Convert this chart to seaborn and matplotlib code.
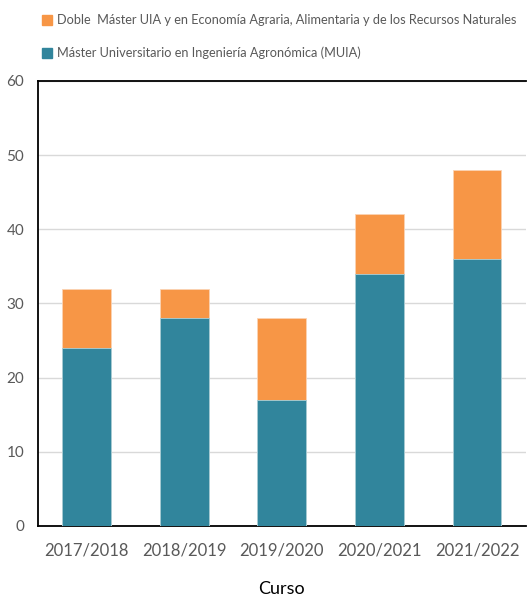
import numpy as np
import pandas as pd
import matplotlib
matplotlib.use("Agg")
import matplotlib.pyplot as plt
import seaborn as sns
from matplotlib.patches import Patch

# data
cursos = ["2017/2018", "2018/2019", "2019/2020", "2020/2021", "2021/2022"]
muia = [24, 28, 17, 34, 36]
doble = [8, 4, 11, 8, 12]

lab_doble = "Doble  Máster UIA y en Economía Agraria, Alimentaria y de los Recursos Naturales"
lab_muia = "Máster Universitario en Ingeniería Agronómica (MUIA)"

df = pd.DataFrame({"Curso": cursos, "MUIA": muia, "Doble": doble})
df["Total"] = df["MUIA"] + df["Doble"]

orange = "#F79646"
teal = "#31859C"
grey = "#595959"

sns.set_style("white")
plt.rcParams["font.family"] = ["Lato", "DejaVu Sans"]

fig = plt.figure(figsize=(5.29, 5.99), dpi=100)
ax = fig.add_axes([0.0718, 0.1219, 0.922, 0.743])

# stacked: totals first, MUIA drawn over them
sns.barplot(data=df, x="Curso", y="Total", color=orange, width=0.5,
            saturation=1, ax=ax, zorder=3, edgecolor="#FBD3B3", linewidth=0.6)
sns.barplot(data=df, x="Curso", y="MUIA", color=teal, width=0.5,
            saturation=1, ax=ax, zorder=3, edgecolor="#A9D0DA", linewidth=0.6)

ax.set_ylim(0, 60)
ax.set_xlim(-0.5, len(cursos) - 0.5)
ax.set_yticks(np.arange(0, 61, 10))
ax.yaxis.grid(True, color="#D9D9D9", linewidth=1, zorder=0)
ax.set_axisbelow(True)

ax.tick_params(axis="y", length=0, labelsize=11, labelcolor=grey, pad=10)
ax.tick_params(axis="x", which="major", length=0, labelsize=12,
               labelcolor=grey, pad=12)
ax.set_xticks(np.arange(-0.5, len(cursos), 1), minor=True)
ax.tick_params(axis="x", which="minor", length=5, width=1.2,
               color="black", direction="out")

for side in ["left", "top", "bottom"]:
    ax.spines[side].set_visible(True)
    ax.spines[side].set_color("black")
    ax.spines[side].set_linewidth(1.3)
ax.spines["right"].set_visible(False)

ax.set_ylabel("")
ax.set_xlabel("Curso", fontsize=13, color="black", labelpad=16)

handles = [Patch(color=orange, label=lab_doble), Patch(color=teal, label=lab_muia)]
fig.legend(handles=handles, loc="upper left", bbox_to_anchor=(0.07, 0.985),
           frameon=False, fontsize=9.2, labelcolor=grey,
           handlelength=0.8, handleheight=0.8, handletextpad=0.4,
           labelspacing=1.6, borderaxespad=0)

fig.savefig("out.png", dpi=100)
